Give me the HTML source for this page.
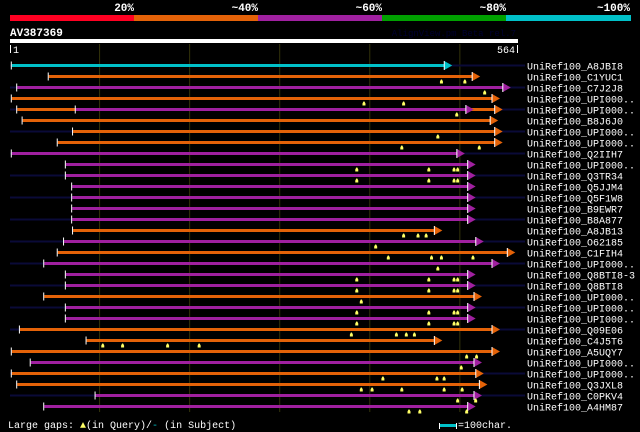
<!DOCTYPE html>
<html><head><meta charset="utf-8">
<style>
html,body{margin:0;padding:0;background:#000;}
svg{display:block;}
text{font-family:"Liberation Mono","DejaVu Sans Mono",monospace;}
</style></head>
<body>
<svg id="chart" width="640" height="432" viewBox="0 0 640 432">
  <rect x="0" y="0" width="640" height="432" fill="#000"/>
  <g>
    <rect x="10" y="15" width="124" height="6" fill="#ff0022"/>
    <rect x="134" y="15" width="124" height="6" fill="#e46208"/>
    <rect x="258" y="15" width="124" height="6" fill="#a020a0"/>
    <rect x="382" y="15" width="124" height="6" fill="#00a000"/>
    <rect x="506" y="15" width="125" height="6" fill="#00c0c8"/>
    <text x="134" y="11" fill="#fff" font-size="11" font-weight="bold" text-anchor="end">20%</text>
    <text x="258" y="11" fill="#fff" font-size="11" font-weight="bold" text-anchor="end">~40%</text>
    <text x="382" y="11" fill="#fff" font-size="11" font-weight="bold" text-anchor="end">~60%</text>
    <text x="506" y="11" fill="#fff" font-size="11" font-weight="bold" text-anchor="end">~80%</text>
    <text x="630" y="11" fill="#fff" font-size="11" font-weight="bold" text-anchor="end">~100%</text>
  </g>
  <text x="10" y="36" fill="#fff" font-size="11" font-weight="bold">AV387369</text>
  <text x="516" y="36" fill="#000030" font-size="9" text-anchor="end">AlignView.pm Beta rel.7</text>
  <rect x="10" y="39" width="508" height="4" fill="#fff"/>
  <rect x="10" y="45" width="1" height="8" fill="#fff"/>
  <text x="13" y="53" fill="#fff" font-size="10">1</text>
  <rect x="517" y="45" width="1" height="8" fill="#fff"/>
  <text x="515" y="53" fill="#fff" font-size="10" text-anchor="end">564</text>
  <g id="grid"></g>
  <g id="rows"></g>
  <g>
    <text x="8" y="428" fill="#fff" font-size="10">Large gaps: <tspan fill="#ffff66">▲</tspan>(in Query)/<tspan fill="#00c0c8">-</tspan> (in Subject)</text>
    <rect x="439" y="423" width="1" height="6" fill="#fff"/>
    <rect x="440" y="424" width="16" height="3" fill="#00c0c8"/>
    <rect x="456" y="423" width="1" height="6" fill="#fff"/>
    <text x="458" y="428" fill="#fff" font-size="10">=100char.</text>
  </g>
</svg>
<script>
const queryLength = 564;
const gridTicks = [100, 200, 300, 400, 500];
const hitNames = ["UniRef100_A8JBI8","UniRef100_C1YUC1","UniRef100_C7J2J8","UniRef100_UPI000..","UniRef100_UPI000..","UniRef100_B8J6J0","UniRef100_UPI000..","UniRef100_UPI000..","UniRef100_Q2IIH7","UniRef100_UPI000..","UniRef100_Q3TR34","UniRef100_Q5JJM4","UniRef100_Q5F1W8","UniRef100_B9EWR7","UniRef100_B8A877","UniRef100_A8JB13","UniRef100_O62185","UniRef100_C1FIH4","UniRef100_UPI000..","UniRef100_Q8BTI8-3","UniRef100_Q8BTI8","UniRef100_UPI000..","UniRef100_UPI000..","UniRef100_UPI000..","UniRef100_Q09E06","UniRef100_C4J5T6","UniRef100_A5UQY7","UniRef100_UPI000..","UniRef100_UPI000..","UniRef100_Q3JXL8","UniRef100_C0PKV4","UniRef100_A4HM87"];
const hitStarts = [2,43,8,2,8,14,70,53,2,62,62,69,69,69,69,70,60,53,38,62,62,38,62,62,11,85,2,23,2,8,95,38];
const hitEnds = [491,522,556,544,547,542,547,547,505,517,517,517,517,517,517,480,526,561,544,517,517,524,517,517,544,480,544,524,526,530,524,517];
const hitIdentity = ["100","40","60","40","40","40","40","40","60","60","60","60","60","60","60","40","60","40","60","60","60","40","60","60","40","40","40","60","40","40","60","60"];
const subjectOverhang = [1,0,1,0,1,0,1,0,1,0,1,0,1,0,1,0,1,0,1,0,1,0,1,0,1,0,0,0,1,0,1,0];
const queryGaps = [[],[479,505],[527],[393,437],[496],[],[475],[435,521],[],[385,465,493,497],[385,465,493,497],[],[],[],[],[437,453,462],[406],[420,468,479,514],[475],[385,465,493,497],[385,465,493,497],[390],[385,465,493,497],[385,465,493,497],[379,429,440,449],[103,125,175,210],[507,518],[501],[414,474,482],[390,402,435,482,502],[497,517],[443,455,507]];
// second HSP drawn over the same row: [rowIndex, start, end, identity]
const extraRows = [4];
const extraStarts = [73];
const extraEnds = [515];
const extraIdentity = ["60"];

const colors = {"20":"#ff0022","40":"#e46208","60":"#a020a0","80":"#00a000","100":"#00c0c8"};
const NS = "http://www.w3.org/2000/svg";
const x0 = 10, plotW = 508;
function xs(c){ return x0 + c * plotW / queryLength; }
function ys(i){ return 65.5 + i * 11; }
function mk(tag, attrs, parent){ const e = document.createElementNS(NS, tag); for (const k in attrs) e.setAttribute(k, attrs[k]); parent.appendChild(e); return e; }

function drawHsp(g, y, sc, ec, col){
  const sx = xs(sc), ex = xs(ec);
  const b = mk('rect', {x: sx, y: y-1.5, width: Math.max(0, ex-8-sx), height: 3, fill: col}, g);
  
  
  const a = mk('polygon', {points: (ex-8)+','+(y-4.5)+' '+ex+','+y+' '+(ex-8)+','+(y+4.5), fill: col}, g);
  
  
  const aw = mk('line', {x1: ex-8, y1: y-4.5, x2: ex-8, y2: y+4.5, stroke: '#fff', 'stroke-width': 1}, g);
  
  
  const t = mk('rect', {x: sx-1, y: y-4, width: 1, height: 8, fill: '#fff'}, g);
  
  
}

const grid = document.getElementById('grid');
gridTicks.forEach(t => {
  const l = mk('line', {x1: xs(t)-0.5, x2: xs(t)-0.5, y1: 44, y2: 412, stroke: '#33330a', 'stroke-width': 1}, grid);
  
  
});

const rows = document.getElementById('rows');
hitNames.forEach((name, i) => {
  const y = ys(i);
  const g = mk('g', {}, rows);
  
  
  if (subjectOverhang[i]) {
    const n = mk('rect', {x: 10, y: y-1, width: 515, height: 2, fill: '#0a0a38'}, g);
    
    
  }
  drawHsp(g, y, hitStarts[i], hitEnds[i], colors[hitIdentity[i]]);
  extraRows.forEach((r, k) => {
    if (r === i) drawHsp(g, y, extraStarts[k], extraEnds[k], colors[extraIdentity[k]]);
  });
  queryGaps[i].forEach(c => {
    const mx = xs(c);
    const m = mk('polygon', {points: (mx-1.5)+','+(y+7)+' '+(mx+1.5)+','+(y+7)+' '+(mx+1.5)+','+(y+5)+' '+(mx+0.5)+','+(y+3)+' '+(mx-0.5)+','+(y+3)+' '+(mx-1.5)+','+(y+5), fill: '#ffff66'}, g);
    
    
  });
  const tx = mk('text', {x: 527, y: y+4, fill: '#fff', 'font-size': 10}, g);
  tx.textContent = name;
  
  
});
</script>
</body></html>
